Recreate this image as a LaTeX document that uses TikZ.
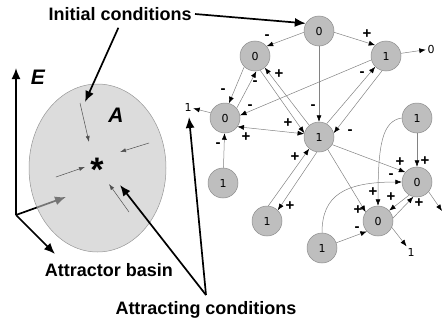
\documentclass[tikz,border=0pt]{standalone}
\usepackage{fontspec}
\setmainfont{Liberation Sans}
\newfontfamily\digfont{DejaVu Sans}
\usepackage{tikz}
\usetikzlibrary{arrows.meta,positioning,shapes.geometric}
\definecolor{bsfill}{RGB}{196,196,196}
\definecolor{bsline}{RGB}{150,150,150}
\definecolor{gnfill}{RGB}{190,190,190}
\definecolor{gnline}{RGB}{140,140,140}
\definecolor{edgray}{RGB}{130,130,130}
\definecolor{tnygray}{RGB}{80,80,80}

\begin{document}
\begin{tikzpicture}[x=1pt,y=-1pt,
  gene/.style={circle,draw=gnline,fill=gnfill,line width=0.5pt,minimum size=30pt,
               inner sep=0pt,font=\digfont\fontsize{11}{13}\selectfont},
  outv/.style={inner sep=1.5pt,font=\digfont\fontsize{11}{13}\selectfont},
  edge/.style={draw=edgray,line width=0.5pt,-{Latex[length=6.5pt,width=5pt,color=black]}},
  both/.style={edge,{Latex[length=6.5pt,width=5pt,color=black]}-{Latex[length=6.5pt,width=5pt,color=black]}},
  sgn/.style={font=\bfseries\fontsize{15}{15}\selectfont,inner sep=0pt},
  big/.style={line width=1.7pt,-{Latex[length=11pt,width=9pt]}},
  tny/.style={draw=tnygray,line width=0.5pt,-{Latex[length=6pt,width=4pt]}},
  ttl/.style={font=\bfseries\fontsize{18}{20}\selectfont},
  lett/.style={font=\bfseries\itshape\fontsize{21}{21}\selectfont,inner sep=0pt},
  basin/.style={ellipse,draw=bsline,line width=0.5pt,fill=bsfill,fill opacity=0.6,
                minimum width=137pt,minimum height=168pt}]

  \useasboundingbox (0,0) rectangle (447,324);

  \coordinate (orig) at (16,215);
  \coordinate (eax) at (16,68);
  \coordinate (zax) at (55,254);
  \coordinate (yax) at (66,197);
  \draw[big] (orig) -- (yax);
  \node[basin] (bsn) at (97.5,168) {};
  \draw[big] (orig) -- (eax);
  \draw[big] (orig) -- (zax);

  \node[lett] (elbl) at (38,77) {E};
  \node[lett] (albl) at (116,115) {A};
  \node[font=\bfseries\fontsize{34}{34}\selectfont,inner sep=0pt] (star) at (97,170) {*};

  \coordinate (t1a) at (80,103);  \coordinate (t1b) at (89,142);
  \coordinate (t2a) at (149,143); \coordinate (t2b) at (120,152);
  \coordinate (t3a) at (56,177);  \coordinate (t3b) at (85,167);
  \coordinate (t4a) at (129,212); \coordinate (t4b) at (109,184);
  \draw[tny] (t1a) -- (t1b);
  \draw[tny] (t2a) -- (t2b);
  \draw[tny] (t3a) -- (t3b);
  \draw[tny] (t4a) -- (t4b);

  \node[gene] (top) at (319,31) {0};
  \node[gene] (ul) at (255,56) {0};
  \node[gene] (ur) at (386,56) {1};
  \node[gene] (ml) at (225,118) {0};
  \node[gene] (hub) at (319,137) {1};
  \node[gene] (mr) at (417,118) {1};
  \node[gene] (ll) at (223,183) {1};
  \node[gene] (lm) at (267,221) {1};
  \node[gene] (br) at (417,182) {0};
  \node[gene] (bm) at (378,221) {0};
  \node[gene] (bot) at (322,248) {1};

  \node[outv] (o1) at (431,49) {0};
  \node[outv] (o2) at (188,107) {1};
  \node[outv] (o3) at (411,252) {1};
  \coordinate (o4) at (442,211);

  \draw[edge] (top.185) -- (ul.40);
  \draw[edge] (top.-5) -- (ur.135);
  \draw[edge] (top) -- (hub);
  \draw[edge] (ur.10) -- (o1);
  \draw[edge] (ur.195) -- (ml.10);
  \draw[edge] (ul.225) -- (ml.75);
  \draw[edge] (ml.40) -- (ul.275);
  \draw[edge] (hub.130) -- (ul.310);
  \draw[edge] (ul.290) -- (hub.165);
  \draw[both] (ml.-35) -- (hub.168);
  \draw[edge] (hub.60) -- (ur.225);
  \draw[edge] (ur.255) -- (hub.15);
  \draw[edge] (ll) -- (ml);
  \draw[edge] (ml.160) -- (o2);
  \draw[edge] (lm.85) -- (hub.230);
  \draw[edge] (hub.262) -- (lm.45);
  \draw[edge] (hub.-30) -- (br.140);
  \draw[edge] (hub.-55) -- (bm.144);
  \draw[edge] (mr) -- (br);
  \draw[edge] (mr.180) .. controls (382,121) and (378,145) .. (bm.north);
  \draw[edge] (bot.north) .. controls (322,195) and (345,182) .. (br.west);
  \draw[edge] (bot.20) -- (bm.223);
  \draw[edge] (br.239) -- (bm.43);
  \draw[edge] (bm.11) -- (br.256);
  \draw[edge] (br.-40) -- (o4);
  \draw[edge] (bm.-25) -- (o3);

  \foreach \x/\y/\s [count=\i] in {267/37/-,367/34/+,313/107/-,250/107/-,223/91/-,
      255/83/-,279/74/+,288/123/+,246/137/+,362/74/-,350/132/-,218/145/-,
      295/157/+,290/206/+,400/162/+,358/210/+,425/161/+,373/192/+,391/176/-,
      357/229/-,391/197/+,419/203/+}
    \node[sgn] (s\i) at (\x,\y) {\s};

  \node[ttl] (ic) at (120,14) {Initial conditions};
  \coordinate (icA) at (85,102);
  \draw[big,shorten <=4pt] (ic.south) -- (icA);
  \draw[big] (ic.east) -- (top.150);

  \node[ttl] (ab) at (109,270) {Attractor basin};

  \node[ttl] (ac) at (206,310) {Attracting conditions};
  \coordinate (acV) at (206,295);
  \coordinate (acA) at (120,185);
  \coordinate (acB) at (189,117);
  \draw[big] (acV) -- (acA);
  \draw[big] (acV) -- (acB);
\end{tikzpicture}
\end{document}
